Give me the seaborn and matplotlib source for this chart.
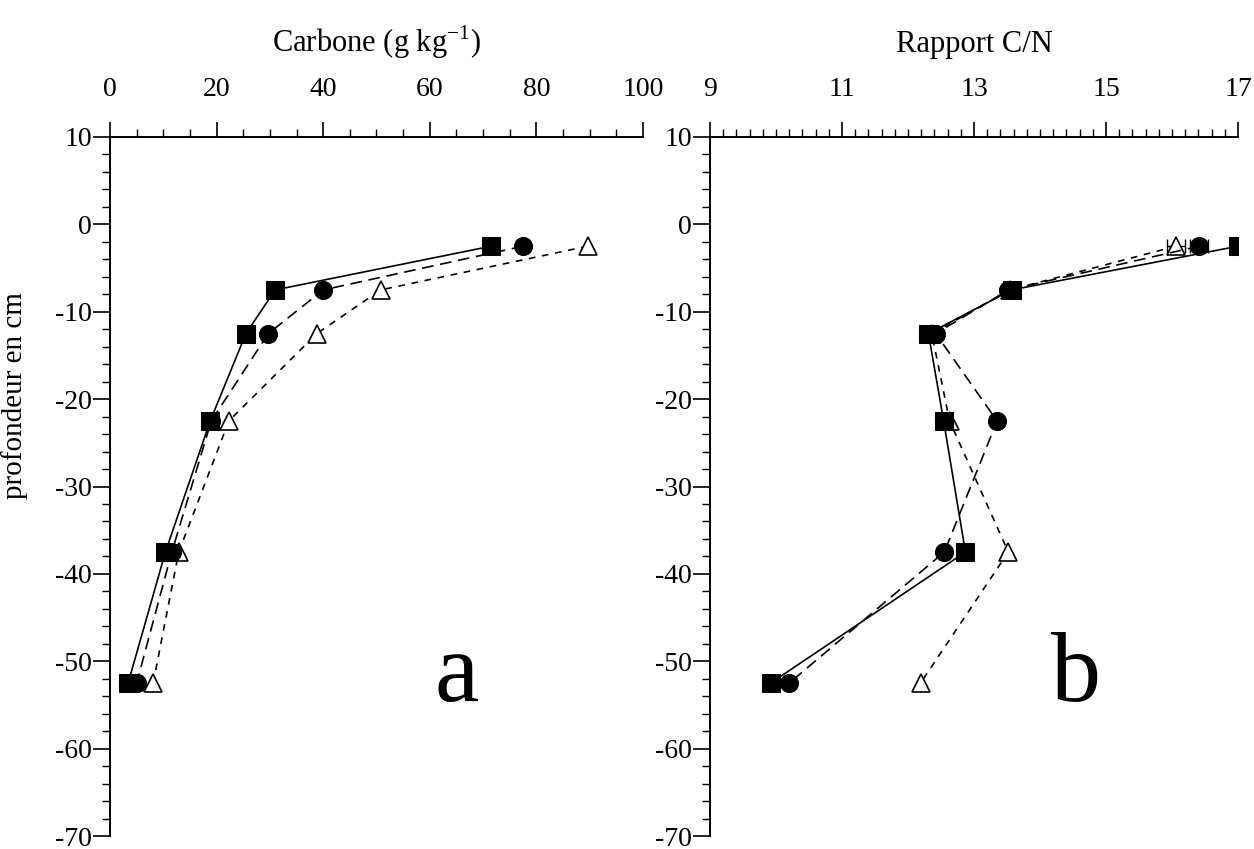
import matplotlib
matplotlib.use("Agg")
import matplotlib.pyplot as plt
import seaborn as sns
import numpy as np
from matplotlib.ticker import MultipleLocator

# ---- data ----
depth = [-2.5, -7.5, -12.5, -22.5, -37.5, -52.5]

carb_square = [71.5, 31.0, 25.5, 18.8, 10.4, 3.4]
carb_circle = [77.5, 40.0, 29.7, 19.0, 11.6, 5.0]
carb_triangle = [89.6, 50.8, 38.8, 22.3, 12.9, 8.1]

cn_square = [17.0, 13.57, 12.31, 12.54, 12.87, 9.92]
cn_circle = [16.41, 13.52, 12.42, 13.35, 12.55, 10.2]
cn_triangle = [16.06, 13.55, 12.36, 12.63, 13.52, 12.19]
cn_err_circle = [0.13]
cn_err_triangle = [0.13]

carb_ticks = [0, 20, 40, 60, 80, 100]
cn_ticks = [9, 11, 13, 15, 17]
depth_ticks = [10, 0, -10, -20, -30, -40, -50, -60, -70]

sns.set_theme(style="white")
plt.rcParams['font.family'] = ['Liberation Serif', 'DejaVu Serif']
plt.rcParams['mathtext.fontset'] = 'custom'
plt.rcParams['mathtext.rm'] = 'Liberation Serif'
plt.rcParams['text.color'] = 'black'
plt.rcParams['axes.labelcolor'] = 'black'
plt.rcParams['xtick.color'] = 'black'
plt.rcParams['ytick.color'] = 'black'

W, H = 1254, 849
fig = plt.figure(figsize=(W / 100, H / 100), dpi=100)
top_px, bot_px = 137, 836
ax1 = fig.add_axes([110 / W, 1 - bot_px / H, (643 - 110) / W, (bot_px - top_px) / H])
ax2 = fig.add_axes([710 / W, 1 - bot_px / H, (1238 - 710) / W, (bot_px - top_px) / H])

ms = 13
lw = 1.2
sq_kw = dict(color='black', marker='s', markersize=ms, markerfacecolor='black',
             markeredgecolor='black', linestyle='-', linewidth=lw)
ci_kw = dict(color='black', marker='o', markersize=ms, markerfacecolor='black',
             markeredgecolor='black', linestyle=(0, (7, 4)), linewidth=lw)
tr_kw = dict(color='black', marker='^', markersize=ms, markerfacecolor='white',
             markeredgecolor='black', markeredgewidth=1.2, linestyle=(0, (4, 4)), linewidth=lw)


def draw(ax, tri, cir, sq):
    sns.lineplot(x=tri, y=depth, sort=False, estimator=None, ax=ax, zorder=2, **tr_kw)
    sns.lineplot(x=cir, y=depth, sort=False, estimator=None, ax=ax, zorder=3, **ci_kw)
    sns.lineplot(x=sq, y=depth, sort=False, estimator=None, ax=ax, zorder=4, **sq_kw)


draw(ax1, carb_triangle, carb_circle, carb_square)
draw(ax2, cn_triangle, cn_circle, cn_square)

ax2.errorbar(cn_triangle[:1], depth[:1], xerr=cn_err_triangle, fmt='none',
             ecolor='black', elinewidth=1.0, capsize=5, zorder=1)
ax2.errorbar(cn_circle[:1], depth[:1], xerr=cn_err_circle, fmt='none',
             ecolor='black', elinewidth=1.0, capsize=5, zorder=1)

for ax, xlim, ticks, minor in [(ax1, (0, 100), carb_ticks, 5), (ax2, (9, 17), cn_ticks, 0.2)]:
    ax.set_xlim(*xlim)
    ax.set_ylim(-70, 10)
    ax.set_xticks(ticks)
    ax.set_xticklabels([str(t) for t in ticks])
    ax.set_yticks(depth_ticks)
    ax.set_yticklabels([str(t) for t in depth_ticks])
    ax.xaxis.set_minor_locator(MultipleLocator(minor))
    ax.yaxis.set_minor_locator(MultipleLocator(2))
    ax.xaxis.tick_top()
    ax.xaxis.set_label_position('top')
    for s in ['right', 'bottom']:
        ax.spines[s].set_visible(False)
    for s in ['left', 'top']:
        ax.spines[s].set_visible(True)
        ax.spines[s].set_color('black')
        ax.spines[s].set_linewidth(1.4)
    ax.tick_params(axis='x', which='major', direction='out', length=11, width=1.2,
                   top=True, bottom=False, labeltop=True, labelbottom=False,
                   labelsize=20, pad=14, colors='black')
    ax.tick_params(axis='x', which='minor', direction='out', length=6, width=1.0,
                   top=True, bottom=False, colors='black')
    ax.tick_params(axis='y', which='major', direction='out', length=12, width=1.2,
                   left=True, right=False, labelsize=20, pad=1, colors='black')
    ax.tick_params(axis='y', which='minor', direction='out', length=6, width=1.0,
                   left=True, right=False, colors='black')
    ax.set_ylabel('')
    ax.grid(False)
    ax.set_facecolor('white')

ax1.set_xlabel('Carbone (g kg$^{\\mathregular{-1}}$)', fontsize=22, labelpad=18, color='black')
ax2.set_xlabel('Rapport C/N', fontsize=22, labelpad=18, color='black')
ax1.set_ylabel('profondeur en cm', fontsize=21, color='black')
ax1.yaxis.set_label_coords(-0.154, 0.63)

ax1.text(65, -54.5, 'a', fontsize=72, ha='center', va='baseline', color='black')
ax2.text(14.55, -54.5, 'b', fontsize=72, ha='center', va='baseline', color='black')

fig.savefig('out.png', dpi=100, facecolor='white')
